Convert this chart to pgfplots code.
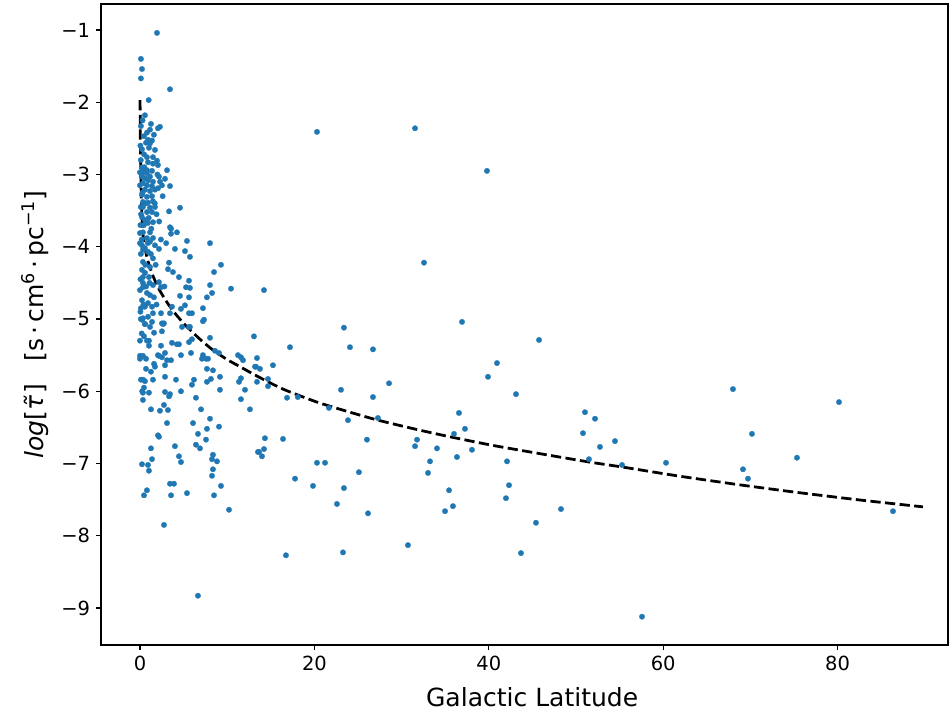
\documentclass[border=0pt]{standalone}
\usepackage{fontspec}
\setmainfont{DejaVu Sans}
\usepackage{pgfplots}
\pgfplotsset{compat=1.18}
\definecolor{c1}{HTML}{1F77B4}
\begin{document}
\begin{tikzpicture}
\begin{axis}[
  name=ax,
  scale only axis,
  width=635.25pt, height=480.75pt,
  xmin=-4.47, xmax=92.66, ymin=-9.512, ymax=-0.640,
  axis line style={line width=0.8pt},
  tick align=outside,
  major tick length=3.7pt,
  every tick/.style={line width=0.8pt, black},
  xtick={0,20,40,60,80}, xticklabels={0,20,40,60,80},
  ytick={-9,-8,-7,-6,-5,-4,-3,-2,-1},
  yticklabels={−9,−8,−7,−6,−5,−4,−3,−2,−1},
  xtick pos=bottom, ytick pos=left,
  ticklabel style={font=\fontsize{14.6}{16}\selectfont},
  xticklabel style={yshift=-1pt},
  yticklabel style={xshift=-1pt},
  label style={font=\fontsize{18.75}{22}\selectfont},
  xlabel={Galactic Latitude},
  xlabel style={at={(axis description cs:0.509,-0.0952)}, anchor=base},
  ylabel={\textit{log}[\textit{τ̃}]\hspace{0.9em}[s\,·\,cm\textsuperscript{6}\,·\,pc\textsuperscript{−1}]},
  ylabel style={at={(axis description cs:-0.078,0.5)}, anchor=center},
]
\addplot[only marks, mark=*, mark size=2.05pt, color=c1, mark options={draw=c1, line width=0.2pt}] table {
x y
1.95 -1.04
0.11 -1.40
0.23 -1.54
0.11 -1.67
3.44 -1.82
1.0 -1.97
0.57 -2.18
1.26 -2.30
1.15 -2.38
2.06 -2.36
2.29 -2.34
0.11 -2.33
0.3 -2.25
0.46 -2.47
0.8 -2.42
1.6 -2.45
0.92 -2.52
1.38 -2.53
0.69 -2.56
1.15 -2.57
1.72 -2.66
1.03 -2.63
0.23 -2.65
0.05 -2.6
0.1 -2.8
0.46 -2.72
0.80 -2.76
0.92 -2.83
1.49 -2.76
1.95 -2.81
2.06 -2.87
1.49 -2.85
0.23 -2.90
0.34 -2.97
0.80 -2.94
3.10 -2.94
2.18 -3.03
2.87 -3.06
1.15 -3.03
0.57 -3.05
0.5 -2.9
0.0 -2.97
0.34 -2.95
0.80 -2.98
1.38 -2.95
0.23 -3.03
0.92 -3.08
1.49 -3.10
0.34 -3.12
0.80 -3.15
1.38 -3.16
0.57 -3.21
1.15 -3.23
1.72 -3.21
2.06 -3.19
0.23 -3.28
0.80 -3.31
1.38 -3.30
0.34 -3.38
0.92 -3.39
1.49 -3.37
1.72 -3.45
0.34 -3.45
1.15 -3.46
0.80 -3.52
1.38 -3.52
0.23 -3.59
0.57 -3.63
0.92 -3.67
1.49 -3.66
1.15 -3.80
0.34 -3.80
0.0 -3.81
1.49 -3.88
0.80 -3.88
1.15 -3.93
0.23 -3.98
0.57 -4.02
0.34 -4.04
1.72 -3.98
0.92 -4.07
1.49 -4.16
0.34 -4.21
0.23 -4.32
1.15 -4.28
0.57 -4.36
0.34 -4.42
1.03 -4.42
0.34 -4.50
0.34 -4.56
0.80 -4.64
1.15 -4.67
0.23 -4.74
0.92 -4.78
0.57 -4.83
1.38 -4.83
0.11 -4.85
1.49 -4.92
0.34 -4.99
0.92 -4.97
0.57 -5.07
1.15 -5.11
2.52 -5.06
0.0 -3.15
0.1 -3.45
0.05 -3.7
0.0 -3.95
0.1 -4.1
0.05 -4.45
0.0 -4.6
0.1 -5.0
0.0 -5.3
0.05 -4.9
0.12 -3.55
0.2 -3.9
0.45 -3.7
0.6 -4.25
0.7 -4.55
0.4 -4.8
0.2 -5.2
0.9 -3.95
1.1 -4.5
1.3 -3.75
1.7 -3.4
1.9 -3.55
2.0 -3.0
2.3 -3.1
2.6 -3.3
1.8 -4.25
2.2 -3.65
0.65 -3.4
1.0 -3.6
0.3 -3.25
1.25 -4.1
1.6 -4.7
1.9 -4.8
2.4 -3.9
2.8 -4.55
3.0 -3.95
0.0 -5.55
0.25 -6.0
2.52 -3.15
3.44 -3.16
4.59 -3.46
3.33 -3.51
3.44 -3.73
3.56 -3.75
4.24 -3.80
3.56 -3.82
5.39 -3.92
8.03 -3.95
4.01 -4.03
5.16 -4.06
5.73 -4.14
2.18 -4.03
3.33 -4.22
3.21 -4.31
3.78 -4.35
4.47 -4.42
5.62 -4.47
8.49 -4.35
9.29 -4.25
8.03 -4.53
10.44 -4.58
5.28 -4.56
5.73 -4.57
8.26 -4.64
7.68 -4.70
4.59 -4.68
5.62 -4.70
5.16 -4.81
4.70 -4.86
7.22 -4.85
5.96 -4.92
5.62 -4.92
7.34 -5.01
5.73 -5.11
2.41 -4.92
2.64 -5.07
3.44 -4.92
2.18 -4.49
2.41 -4.56
1.49 -4.53
3.67 -4.83
0.23 -5.01
0.57 -5.07
1.38 -5.04
2.75 -5.06
4.82 -5.11
5.62 -5.11
7.22 -5.03
0.46 -5.24
1.61 -5.19
2.52 -5.17
0.80 -5.30
1.03 -5.30
1.03 -5.37
2.41 -5.37
3.67 -5.33
4.24 -5.35
4.47 -5.35
5.62 -5.32
5.96 -5.28
8.03 -5.26
0.0 -5.51
0.34 -5.51
0.69 -5.55
2.06 -5.50
2.18 -5.51
2.52 -5.53
2.87 -5.47
4.70 -5.50
5.85 -5.47
7.22 -5.50
7.11 -5.55
7.57 -5.55
7.80 -5.55
8.60 -5.44
9.06 -5.47
11.24 -5.50
11.58 -5.53
11.81 -5.57
13.30 -5.66
1.61 -5.62
1.72 -5.66
3.10 -5.57
3.56 -5.57
2.87 -5.64
0.69 -5.69
1.26 -5.73
7.68 -5.69
8.37 -5.71
0.11 -5.84
0.34 -5.84
0.57 -5.86
1.49 -5.84
2.87 -5.80
4.13 -5.84
6.19 -5.84
5.96 -5.91
7.68 -5.87
8.14 -5.83
9.17 -5.80
11.35 -5.87
11.58 -5.82
0.46 -5.95
0.34 -6.02
1.03 -6.02
2.87 -6.01
3.44 -6.04
3.33 -6.07
4.70 -6.00
9.17 -5.98
12.04 -5.98
0.34 -6.12
6.42 -6.09
11.58 -6.11
1.26 -6.25
2.29 -6.27
2.75 -6.19
3.21 -6.26
7.00 -6.25
12.61 -6.25
3.10 -6.44
6.08 -6.44
8.03 -6.38
7.68 -6.52
9.06 -6.49
2.06 -6.61
2.18 -6.63
6.65 -6.59
7.57 -6.67
1.26 -6.79
4.01 -6.76
6.42 -6.74
6.88 -6.79
4.47 -6.90
8.37 -6.88
8.26 -6.94
1.38 -6.94
4.70 -6.98
8.83 -6.97
13.53 -6.84
0.23 -7.01
0.92 -7.02
1.03 -7.10
8.37 -7.08
8.26 -7.17
3.44 -7.28
3.90 -7.28
0.80 -7.37
0.46 -7.44
3.56 -7.44
5.39 -7.41
9.29 -7.31
8.49 -7.44
10.21 -7.64
2.75 -7.85
6.65 -8.83
20.3 -2.41
31.54 -2.36
39.79 -2.95
32.57 -4.22
14.22 -4.60
36.93 -5.04
23.39 -5.12
13.07 -5.24
17.2 -5.39
24.08 -5.39
26.72 -5.42
45.76 -5.29
40.94 -5.61
13.42 -5.54
13.19 -5.66
13.76 -5.69
15.25 -5.64
13.42 -5.87
14.68 -5.83
14.68 -5.93
39.91 -5.80
28.56 -5.89
23.05 -5.98
68.0 -5.97
80.16 -6.15
43.12 -6.04
26.72 -6.08
18.1 -6.08
16.86 -6.09
21.67 -6.23
27.29 -6.37
23.85 -6.40
36.58 -6.30
51.03 -6.29
52.18 -6.38
70.18 -6.59
50.80 -6.58
37.27 -6.52
36.01 -6.59
31.77 -6.67
31.54 -6.76
54.47 -6.69
52.75 -6.77
34.06 -6.79
26.03 -6.67
16.4 -6.66
14.33 -6.65
38.07 -6.81
36.35 -6.91
33.26 -6.97
51.49 -6.94
75.34 -6.92
60.32 -6.99
42.09 -6.97
55.28 -7.02
21.22 -6.99
20.30 -6.99
69.15 -7.08
69.72 -7.21
33.03 -7.13
25.11 -7.12
17.78 -7.21
19.84 -7.31
23.39 -7.34
42.32 -7.30
35.44 -7.37
41.97 -7.48
22.59 -7.56
34.98 -7.66
35.89 -7.59
26.15 -7.69
48.28 -7.63
86.35 -7.66
45.41 -7.82
16.74 -8.27
23.28 -8.23
30.73 -8.13
43.69 -8.24
57.57 -9.12
13.65 -6.84
14.22 -6.80
13.99 -6.90
};
\addplot[black, line width=2.08pt, dash pattern=on 7.7pt off 3.3pt, smooth, tension=0.4] coordinates {
(0.01,-1.97) (0.05,-2.6) (0.1,-3.03) (0.2,-3.5) (0.34,-3.82) (0.57,-4.02) (0.92,-4.2) (1.38,-4.37) (1.95,-4.53) (2.29,-4.61) (3.1,-4.77) (4.01,-4.92) (5.16,-5.08) (6.88,-5.28) (8.37,-5.43) (9.98,-5.56) (11.47,-5.66) (13.42,-5.79) (16.4,-5.97) (20.3,-6.15) (24.08,-6.29) (27.29,-6.40) (31.77,-6.53) (35.55,-6.63) (40.94,-6.76) (51.03,-6.97) (55.39,-7.05) (61.58,-7.17) (68.46,-7.29) (75.34,-7.40) (82.91,-7.51) (89.79,-7.60)
};
\end{axis}
\pgfresetboundingbox
\path (ax.south west) ++(-75.75pt,-51.75pt) coordinate (bl);
\path (ax.north east) ++(0.75pt,3pt) coordinate (tr);
\path[use as bounding box] (bl) rectangle (tr);
\end{tikzpicture}
\end{document}
